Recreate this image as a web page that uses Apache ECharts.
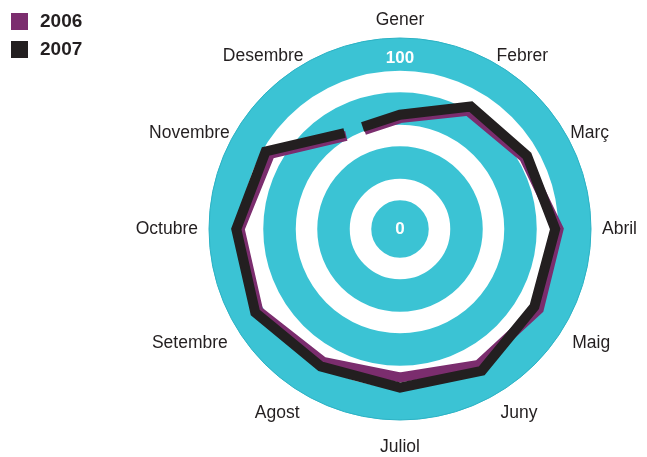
<!DOCTYPE html>
<html>
<head>
<meta charset="utf-8">
<title>2006 / 2007</title>
<script src="https://cdn.jsdelivr.net/npm/echarts@6/dist/echarts.min.js"></script>
<style>
  html, body { margin: 0; padding: 0; background: #fff; }
  #main { width: 647px; height: 457px; }
</style>
</head>
<body>
<div id="main"></div>
<script>
// dades
const months = ['Gener', 'Febrer', 'Març', 'Abril', 'Maig', 'Juny', 'Juliol', 'Agost', 'Setembre', 'Octubre', 'Novembre', 'Desembre'];
const years = ['2006', '2007'];
const values2006 = [65, 80, 84, 93, 94, 92, 87, 90, 96, 94, 88, 63];
const values2007 = [67, 83, 86, 91, 91, 96, 93, 93, 98, 96, 91, 65];
const radiusLabels = [0, 100];

const cyan = '#3bc3d4';
const purple = '#7b2d6e';
const black = '#231f20';
const font = 'Liberation Sans, Arial, sans-serif';

// anelles blanques del fons: pas i gruix (px)
const ringStep = 54;
const ringWidth = 21.5;
const ringOuter = 147.5 + ringStep;   // radi del polar de les anelles
const ringColors = ['rgba(0,0,0,0)', '#ffffff', '#ffffff', '#ffffff', 'rgba(0,0,0,0)'];

// etiquetes dels mesos: cada parella simètrica té el seu desplaçament
function monthStyle(lineHeight, pad) {
  return { fontSize: 17.5, fontFamily: font, color: black, lineHeight: lineHeight, padding: [0, pad, 0, pad] };
}
const monthRich = {
  g0: monthStyle(48, 0),
  g1: monthStyle(25, 4),
  g2: monthStyle(7, 10),
  g3: monthStyle(20, 17),
  g4: monthStyle(43, 12),
  g5: monthStyle(48, 8),
  g6: monthStyle(66, 0)
};

// la línia comença a Desembre perquè el tram Desembre-Gener quedi obert
function yearLine(values) {
  let pts = values.map(function (v, i) { return [v, i]; });
  return [pts[pts.length - 1]].concat(pts);
}

function lineSeries(name, values, color) {
  return {
    name: name,
    type: 'line',
    coordinateSystem: 'polar',
    polarIndex: 0,
    data: yearLine(values),
    symbol: 'none',
    color: color,
    lineStyle: { color: color, width: 10, join: 'miter', cap: 'butt', type: [0, 19, 3000, 0] },
    z: 2
  };
}

let myChart = echarts.init(document.getElementById('main'));
let option = {
  animation: false,
  legend: {
    data: years,
    orient: 'vertical',
    left: 11,
    top: 12,
    padding: 0,
    icon: 'rect',
    itemWidth: 17,
    itemHeight: 17,
    itemGap: 9,
    textStyle: { fontSize: 19, fontWeight: 'bold', color: black, fontFamily: font, padding: [0, 0, 0, 7] }
  },
  polar: [
    { center: [400, 229], radius: 191 },
    { center: [400, 229], radius: ringOuter }
  ],
  angleAxis: [
    {
      polarIndex: 0, type: 'value', min: 0, max: 12, interval: 1, startAngle: 90, clockwise: true, z: 0,
      axisLine: { show: true, lineStyle: { color: '#2cb2c4', width: 1 } },
      axisTick: { show: false },
      splitLine: { show: false },
      splitArea: { show: true, areaStyle: { color: [cyan] } },
      axisLabel: {
        margin: -6,
        fontSize: 17.5,
        fontFamily: font,
        color: black,
        formatter: function (v) {
          if (v >= months.length) return '';
          return '{g' + Math.min(v, 12 - v) + '|' + months[v] + '}';
        },
        rich: monthRich
      }
    },
    {
      polarIndex: 1, type: 'value', min: 0, max: 1, startAngle: 90,
      axisLine: { show: false }, axisTick: { show: false }, axisLabel: { show: false },
      splitLine: { show: false }, splitArea: { show: false }
    }
  ],
  radiusAxis: [
    {
      polarIndex: 0, type: 'value', min: 0, max: 112, interval: 100, z: 5,
      axisLine: { show: false }, axisTick: { show: false }, splitLine: { show: false }, splitArea: { show: false },
      axisLabel: {
        margin: 0,
        align: 'center',
        verticalAlign: 'middle',
        color: '#ffffff',
        fontWeight: 'bold',
        fontSize: 17,
        fontFamily: font,
        formatter: function (v) { return radiusLabels.indexOf(v) >= 0 ? String(v) : ''; }
      }
    },
    {
      // anelles comptades des de fora cap endins
      polarIndex: 1, type: 'value', inverse: true, min: 0, max: ringOuter / ringStep, interval: 1, z: 1,
      axisLine: { show: false }, axisTick: { show: false }, axisLabel: { show: false }, splitArea: { show: false },
      splitLine: { show: true, lineStyle: { color: ringColors, width: ringWidth } }
    }
  ],
  series: [
    lineSeries(years[0], values2006, purple),
    lineSeries(years[1], values2007, black)
  ]
};
myChart.setOption(option);
</script>
</body>
</html>
